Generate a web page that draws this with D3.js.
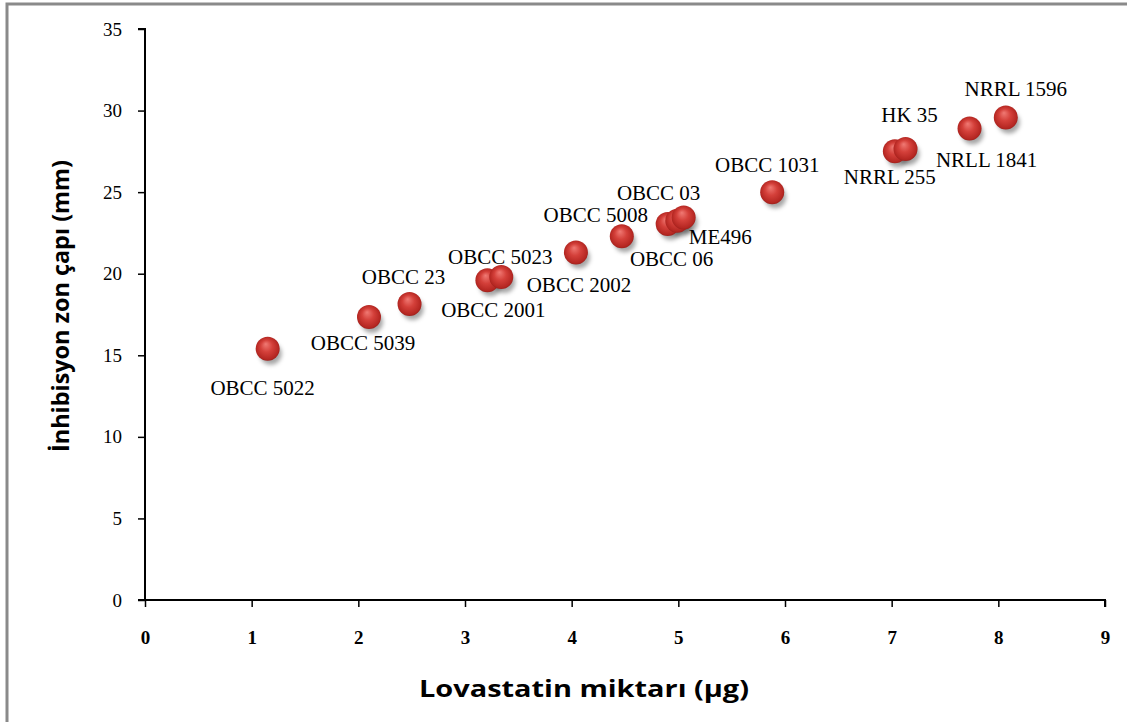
<!DOCTYPE html>
<html><head><meta charset="utf-8">
<script src="https://cdn.jsdelivr.net/npm/d3@7"></script>
<style>body{margin:0;background:#fff}
.serif{font-family:"Liberation Serif","Times New Roman","DejaVu Serif",serif}
.sansb{font-family:"Open Sans","Noto Sans",sans-serif;font-weight:bold}
</style>
</head><body>
<svg id="c" width="1127" height="722"></svg>
<script>
const labels = ["OBCC 5022","OBCC 5039","OBCC 23","OBCC 2001","OBCC 5023","OBCC 2002","OBCC 5008","OBCC 06","ME496","OBCC 03","OBCC 1031","NRRL 255","HK 35","NRLL 1841","NRRL 1596"];
const xValues = [1.15,2.10,2.48,3.21,3.34,4.04,4.47,4.90,4.99,5.05,5.88,7.03,7.13,7.73,8.07];
const yValues = [15.4,17.35,18.15,19.6,19.8,21.3,22.3,23.05,23.25,23.45,25.0,27.5,27.65,28.9,29.57];
const xTicks = [0,1,2,3,4,5,6,7,8,9];
const yTicks = [0,5,10,15,20,25,30,35];
const xTitle = "Lovastatin miktarı (µg)";
const yTitle = "İnhibisyon zon çapı (mm)";

const svg = d3.select("#c");
const m = {l:145, r:1105, t:29, b:600};
const x = d3.scaleLinear().domain([0,9]).range([m.l, m.r]);
const y = d3.scaleLinear().domain([0,35]).range([m.b, m.t]);

// frame
svg.append("rect").attr("x",7).attr("y",4).attr("width",1200).attr("height",800)
  .attr("fill","none").attr("stroke","#8a8a8a").attr("stroke-width",3);

const defs = svg.append("defs");
const g = defs.append("radialGradient").attr("id","ball").attr("cx","0.5").attr("cy","0.5").attr("r","0.55").attr("fx","0.42").attr("fy","0.3");
g.append("stop").attr("offset","0").attr("stop-color","#f07a74");
g.append("stop").attr("offset","0.45").attr("stop-color","#d4403a");
g.append("stop").attr("offset","0.85").attr("stop-color","#b52722");
g.append("stop").attr("offset","1").attr("stop-color","#8e1c18");
const f = defs.append("filter").attr("id","sh").attr("x","-50%").attr("y","-50%").attr("width","200%").attr("height","200%");
f.append("feGaussianBlur").attr("stdDeviation",2.2);

// axes
const xa = svg.append("g").attr("transform",`translate(0,${m.b})`)
  .call(d3.axisBottom(x).tickValues(xTicks).tickSize(7).tickPadding(24).tickFormat(d3.format("d")));
const ya = svg.append("g").attr("transform",`translate(${m.l},0)`)
  .call(d3.axisLeft(y).tickValues(yTicks).tickSize(7).tickPadding(16).tickFormat(d3.format("d")));
[xa,ya].forEach(a=>{
  a.attr("font-family",null).attr("font-size",null);
  a.select(".domain").attr("stroke","#000").attr("stroke-width",2);
  a.selectAll(".tick line").attr("stroke","#000").attr("stroke-width",1.5);
  a.selectAll(".tick text").attr("class","serif").style("font-size","19px").attr("fill","#000");
});
xa.selectAll(".tick text").style("font-weight","bold");
ya.select(".domain").attr("d",`M-7,${m.b}H0V${m.t}H-7`);
xa.select(".domain").attr("d",`M${m.l-7},0H${m.r}V7`);

svg.append("text").attr("class","sansb").attr("x",584).attr("y",697).attr("text-anchor","middle")
  .attr("textLength",330).attr("lengthAdjust","spacingAndGlyphs")
  .style("font-size","24px").text(xTitle);
svg.append("text").attr("class","sansb").attr("transform","translate(69,306) rotate(-90)").attr("text-anchor","middle")
  .attr("textLength",292).attr("lengthAdjust","spacingAndGlyphs")
  .style("font-size","23px").text(yTitle);

const data = labels.map((l,i)=>({l, x:xValues[i], y:yValues[i]}));
// label placement relative to marker (pixel offsets of text center / baseline)
const place = {
  "OBCC 5022":[-5,46],"OBCC 5039":[-6,33],"OBCC 23":[-6,-20],"OBCC 2001":[6,37],
  "OBCC 5023":[-1,-13],"OBCC 2002":[3,39],"OBCC 5008":[-26,-14],"OBCC 06":[4,42],
  "ME496":[43,23],"OBCC 03":[-25,-17],"OBCC 1031":[-5,-20],"NRRL 255":[-5,33],
  "HK 35":[4,-27],"NRLL 1841":[17,38],"NRRL 1596":[10,-22]
};
const pts = svg.append("g");
pts.selectAll("circle.s").data(data).join("circle").attr("class","s")
  .attr("cx",d=>x(d.x)+3).attr("cy",d=>y(d.y)+5).attr("r",11)
  .attr("fill","rgba(0,0,0,0.35)").attr("filter","url(#sh)");
pts.selectAll("circle.b").data(data).join("circle").attr("class","b")
  .attr("cx",d=>x(d.x)).attr("cy",d=>y(d.y)).attr("r",12)
  .attr("fill","url(#ball)");
svg.append("g").selectAll("text").data(data).join("text").attr("class","serif")
  .attr("x",d=>x(d.x)+place[d.l][0]).attr("y",d=>y(d.y)+place[d.l][1])
  .attr("text-anchor","middle").style("font-size","21px")
  .attr("fill","#000").text(d=>d.l);
</script>
</body></html>
